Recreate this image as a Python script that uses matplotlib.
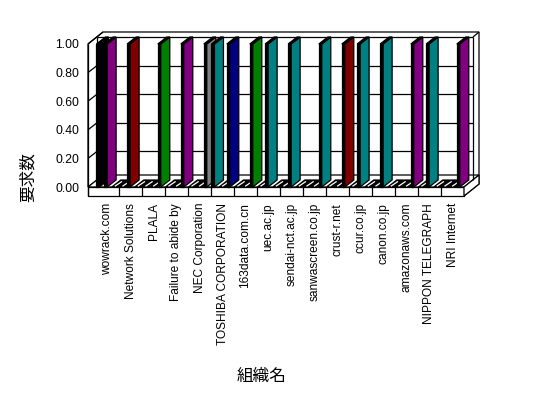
# 3D style column chart (Excel look) - organizations vs request count

import matplotlib
matplotlib.use("Agg")
from matplotlib import pyplot as plt
from matplotlib.patches import Polygon

# Data Set
orgs = ["wowrack.com", "Network Solutions", "PLALA", "Failure to abide by",
        "NEC Corporation", "TOSHIBA CORPORATION", "163data.com.cn", "uec.ac.jp",
        "sendai-nct.ac.jp", "sanwascreen.co.jp", "crust-r.net", "ccur.co.jp",
        "canon.co.jp", "amazonaws.com", "NIPPON TELEGRAPH", "NRI Internet"]
# three series per organization (cluster slots)
series1 = [1, 0, 0, 0, 0, 1, 0, 0, 0, 0, 0, 0, 0, 0, 0, 0]
series2 = [1, 1, 0, 0, 0, 0, 0, 1, 1, 0, 0, 1, 1, 0, 1, 0]
series3 = [0, 0, 1, 1, 1, 1, 1, 0, 0, 1, 1, 0, 0, 1, 0, 1]
colors1 = ["#000000", "#000000", "#000000", "#000000", "#000000", "#008080", "#000000", "#000000",
           "#000000", "#000000", "#000000", "#000000", "#000000", "#000000", "#000000", "#000000"]
colors2 = ["#800080", "#800000", "#000000", "#000000", "#000000", "#000000", "#000000", "#008080",
           "#008080", "#000000", "#000000", "#008080", "#008080", "#000000", "#008080", "#000000"]
colors3 = ["#000000", "#000000", "#008000", "#800080", "#808080", "#000080", "#008000", "#000000",
           "#000000", "#008080", "#800000", "#000000", "#000000", "#800080", "#000000", "#800080"]
yticks = [0.0, 0.2, 0.4, 0.6, 0.8, 1.0]

n = len(orgs)

fig = plt.figure(figsize=(5.48, 3.98), dpi=100)
W, H = 548.0, 398.0
# front plane: category 0 left at x=96px, category 16 at 464px; value 0 at y=187px, 1 at 44px
ax = fig.add_axes([96 / W, 1 - 187 / H, 368 / W, 143 / H])
ax.set_xlim(0, n)
ax.set_ylim(0, 1)
ax.set_frame_on(False)

ux = 368.0 / n   # pixels per category
uy = 143.0       # pixels per value unit
DX, DY = 9 / ux, 7 / uy        # depth of the inner box
OX, OY = 15 / ux, 12 / uy      # depth of outer wall edge
T = 9 / uy                     # floor slab thickness
LW = -8 / ux                   # left wall front edge
FW = 3 / ux                    # bar front face width
SLOT = 1.0 / 3

lw = 0.9


def line(xs, ys, z=2, c="black"):
    ax.plot(xs, ys, color=c, lw=lw, clip_on=False, zorder=z, solid_capstyle="butt")


def poly(pts, fc, z=1):
    ax.add_patch(Polygon(pts, closed=True, facecolor=fc, edgecolor="black", lw=lw,
                         clip_on=False, zorder=z))


# back wall (with thickness)
poly([(LW + OX, 1 + OY), (n + OX, 1 + OY), (n + OX, OY - T), (n, -T), (n, 0),
      (LW + DX, DY), (LW, 0), (LW, 1)], "white", z=0)
line([DX * 0 + LW + DX, n + DX], [1 + DY, 1 + DY])
line([LW + DX, LW + DX], [DY, 1 + DY])
line([n + DX, n + DX], [DY, 1 + DY])
line([n + DX, n + OX], [1 + DY, 1 + OY])
line([LW, LW + OX], [1, 1 + OY])

# gridlines on back wall and left wall
for v in yticks[1:-1]:
    line([LW + DX, n + DX], [v + DY, v + DY], z=1)
    line([LW, LW + DX], [v, v + DY], z=1)

# floor slab
poly([(LW, 0), (n, 0), (n + OX, OY), (LW + OX, OY)], "white", z=1)
poly([(LW, 0), (n, 0), (n, -T), (LW, -T)], "white", z=1)
poly([(n, 0), (n + OX, OY), (n + OX, OY - T), (n, -T)], "white", z=1)
for i in range(1, n):
    line([i, i], [0, -T], z=2)
line([LW, LW], [-T, 1], z=2)

# bars
for i in range(n):
    for k, (vals, cols) in enumerate([(series1, colors1), (series2, colors2), (series3, colors3)]):
        x0 = i + k * SLOT + 0.02
        v = vals[i]
        z = 3 + i * 0.01 + k * 0.001
        if v == 0:
            poly([(x0, 0), (x0 + SLOT * 0.9, 0), (x0 + SLOT * 0.9 + DX, DY), (x0 + DX, DY)],
                 "black", z=z)
            line([x0 + FW, x0 + FW + DX * 0.8], [0.005, DY * 0.8], z=z, c="white")
        else:
            poly([(x0, 0), (x0 + FW, 0), (x0 + FW, v), (x0, v)], "black", z=z)
            poly([(x0 + FW, 0), (x0 + FW + DX, DY), (x0 + FW + DX, v + DY), (x0 + FW, v)],
                 cols[i], z=z)
            poly([(x0, v), (x0 + FW, v), (x0 + FW + DX, v + DY), (x0 + DX, v + DY)],
                 "black", z=z)

# ticks and labels
ax.set_xticks([i + 0.5 for i in range(n)])
ax.set_xticklabels(orgs, rotation=90, fontsize=8.6, family="Liberation Sans")
ax.set_yticks(yticks)
ax.set_yticklabels(["%.2f" % v for v in yticks], fontsize=8.8, family="Liberation Sans")
ax.tick_params(axis="x", length=0, pad=11.5)
ax.tick_params(axis="y", length=0, pad=12.2)

fig.text(28 / W, 1 - 177 / H, "要求数", rotation=90, ha="center", va="center",
         fontsize=12, family=["Noto Sans CJK JP", "DejaVu Sans"])
fig.text(262 / W, 1 - 376 / H, "組織名", ha="center", va="center",
         fontsize=12, family=["Noto Sans CJK JP", "DejaVu Sans"])

fig.savefig("out.png", dpi=100)
